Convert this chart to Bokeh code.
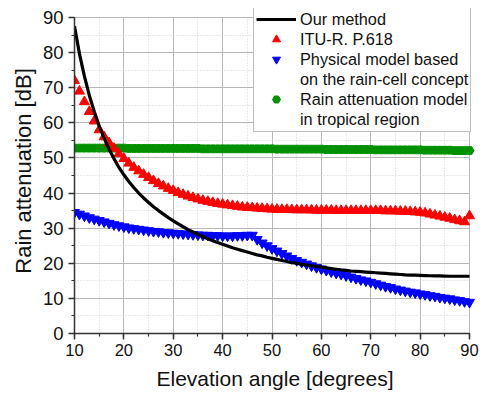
from bokeh.plotting import figure
from bokeh.models import Range1d, Legend, LegendItem, SingleIntervalTicker
from bokeh.embed import file_html
from bokeh.resources import INLINE

elev = list(range(10, 91))

our_method = [87.5, 79.7, 73.3, 67.8, 63.2, 59.1, 55.6, 52.5, 49.8, 47.3,
              45.2, 43.3, 41.6, 40.0, 38.6, 37.3, 36.1, 35.0, 34.0, 33.0,
              32.1, 31.2, 30.4, 29.6, 28.9, 28.2, 27.6, 27.0, 26.4, 25.9,
              25.4, 24.9, 24.4, 24.0, 23.6, 23.2, 22.8, 22.4, 22.1, 21.7,
              21.4, 21.1, 20.8, 20.5, 20.2, 20.0, 19.7, 19.5, 19.3, 19.1,
              18.9, 18.7, 18.5, 18.3, 18.1, 18.0, 17.8, 17.7, 17.6, 17.5,
              17.4, 17.3, 17.2, 17.1, 17.0, 16.9, 16.8, 16.7, 16.65, 16.6,
              16.55, 16.5, 16.45, 16.4, 16.4, 16.35, 16.3, 16.3, 16.3, 16.3, 16.3]

itu_p618 = [72.0, 69.0, 66.0, 63.2, 60.5, 58.0, 56.0, 54.3, 52.7, 51.2,
            49.8, 48.5, 47.3, 46.3, 45.3, 44.4, 43.5, 42.7, 42.0, 41.3,
            40.7, 40.1, 39.6, 39.1, 38.7, 38.3, 37.9, 37.6, 37.3, 37.0,
            36.8, 36.6, 36.4, 36.2, 36.0, 35.9, 35.8, 35.7, 35.6, 35.5,
            35.4, 35.35, 35.3, 35.3, 35.25, 35.2, 35.2, 35.2, 35.15, 35.1,
            35.1, 35.1, 35.1, 35.0, 35.0, 35.0, 35.0, 35.0, 35.0, 35.0,
            35.0, 35.0, 35.0, 34.9, 34.9, 34.9, 34.8, 34.8, 34.7, 34.6,
            34.5, 34.3, 34.0, 33.7, 33.4, 33.1, 32.8, 32.4, 32.1, 31.8, 33.5]

rain_cell = [34.5, 34.0, 33.5, 33.0, 32.6, 32.2, 31.8, 31.4, 31.0, 30.7,
             30.4, 30.1, 29.9, 29.7, 29.5, 29.3, 29.1, 29.0, 28.8, 28.7,
             28.6, 28.5, 28.4, 28.3, 28.2, 28.1, 28.0, 28.0, 27.9, 27.9,
             27.8, 27.8, 27.8, 27.9, 27.9, 28.0, 28.0, 26.8, 25.8, 25.0,
             24.2, 23.5, 22.8, 22.1, 21.4, 20.8, 20.3, 19.8, 19.3, 18.8,
             18.4, 18.0, 17.6, 17.2, 16.9, 16.5, 16.1, 15.7, 15.3, 15.0,
             14.6, 14.2, 13.8, 13.4, 13.1, 12.7, 12.4, 12.1, 11.8, 11.6,
             11.3, 11.1, 10.8, 10.6, 10.3, 10.1, 9.9, 9.6, 9.4, 9.1, 8.9]

tropical = [52.8, 52.8, 52.8, 52.8, 52.8, 52.8, 52.8, 52.8, 52.8, 52.8,
            52.8, 52.7, 52.7, 52.7, 52.7, 52.7, 52.7, 52.7, 52.7, 52.7,
            52.7, 52.7, 52.7, 52.7, 52.7, 52.7, 52.6, 52.6, 52.6, 52.6,
            52.6, 52.6, 52.6, 52.6, 52.6, 52.6, 52.6, 52.6, 52.6, 52.6,
            52.6, 52.5, 52.5, 52.5, 52.5, 52.5, 52.5, 52.5, 52.5, 52.5,
            52.5, 52.4, 52.4, 52.4, 52.4, 52.4, 52.4, 52.4, 52.4, 52.4,
            52.4, 52.3, 52.3, 52.3, 52.3, 52.3, 52.3, 52.3, 52.3, 52.3,
            52.3, 52.2, 52.2, 52.2, 52.2, 52.2, 52.2, 52.1, 52.1, 52.1, 52.1]

labels = ["Our method", "ITU-R. P.618", "Physical model based",
          "on the rain-cell concept", "Rain attenuation model", "in tropical region"]

FONT = "Liberation Sans"

# frame spans a bit beyond the axes so the legend box is not clipped;
# axes and grids are bounded to the data window 10..90 x 0..90
p = figure(width=482, height=396, output_backend="svg", toolbar_location=None,
           x_range=Range1d(10, 91.215), y_range=Range1d(0, 92.56),
           min_border_left=74, min_border_right=7, min_border_top=8,
           min_border_bottom=63)
p.outline_line_color = None
p.background_fill_color = "white"
p.border_fill_color = "white"

p.xaxis.ticker = SingleIntervalTicker(interval=10, num_minor_ticks=2)
p.yaxis.ticker = SingleIntervalTicker(interval=10, num_minor_ticks=2)
p.xgrid.ticker = p.xaxis.ticker
p.ygrid.ticker = p.yaxis.ticker
p.xaxis.bounds = (10, 90)
p.yaxis.bounds = (0, 90)
p.xgrid.bounds = (10, 90)
p.ygrid.bounds = (0, 90)
p.xgrid.cross_bounds = (0, 90)
p.ygrid.cross_bounds = (10, 90)

for g in (p.xgrid, p.ygrid):
    g.grid_line_color = "#b8b8b8"
    g.grid_line_width = 1
    g.minor_grid_line_color = "#d4d4d4"
    g.minor_grid_line_dash = "1 2"
    g.minor_grid_line_width = 1

for ax in (p.xaxis, p.yaxis):
    ax.axis_line_color = "#333333"
    ax.axis_line_width = 1.5
    ax.major_tick_line_color = "#333333"
    ax.minor_tick_line_color = "#333333"
    ax.major_tick_line_width = 1.5
    ax.minor_tick_line_width = 1.2
    ax.major_tick_out = 6
    ax.major_tick_in = 0
    ax.minor_tick_out = 3
    ax.minor_tick_in = 0
    ax.major_label_text_font = FONT
    ax.major_label_text_color = "#111111"
    ax.axis_label_text_font = FONT
    ax.axis_label_text_font_style = "normal"
    ax.axis_label_text_color = "#111111"

p.xaxis.axis_label = "Elevation angle [degrees]"
p.yaxis.axis_label = "Rain attenuation [dB]"
p.xaxis.major_label_text_font_size = "16.5px"
p.yaxis.major_label_text_font_size = "18.5px"
p.xaxis.axis_label_text_font_size = "21px"
p.yaxis.axis_label_text_font_size = "22px"
p.xaxis.major_label_standoff = 4
p.yaxis.major_label_standoff = 5
p.xaxis.axis_label_standoff = 8
p.yaxis.axis_label_standoff = 4

r_green = p.scatter(elev, tropical, marker="hex", size=9, color="#009000")
r_blue = p.scatter(elev, rain_cell, marker="inverted_triangle", size=10, color="#0000ff")
r_red = p.scatter(elev, itu_p618, marker="triangle", size=10, color="#ff0000")
r_black = p.line(elev, our_method, line_color="black", line_width=3.2)

legend = Legend(items=[
    LegendItem(label=labels[0], renderers=[r_black]),
    LegendItem(label=labels[1], renderers=[r_red]),
    LegendItem(label=labels[2], renderers=[r_blue]),
    LegendItem(label=labels[3], renderers=[]),
    LegendItem(label=labels[4], renderers=[r_green]),
    LegendItem(label=labels[5], renderers=[]),
], location=(179, 201))
legend.padding = 2
legend.spacing = 0
legend.margin = 0
legend.glyph_width = 40
legend.glyph_height = 20
legend.label_height = 20
legend.label_standoff = 4
legend.label_text_font = FONT
legend.label_text_font_size = "16.3px"
legend.label_text_color = "#111111"
legend.border_line_color = "#808080"
legend.border_line_width = 1
legend.background_fill_color = "white"
legend.background_fill_alpha = 1
p.add_layout(legend, "center")

open("out.html", "w").write(file_html(p, INLINE))
